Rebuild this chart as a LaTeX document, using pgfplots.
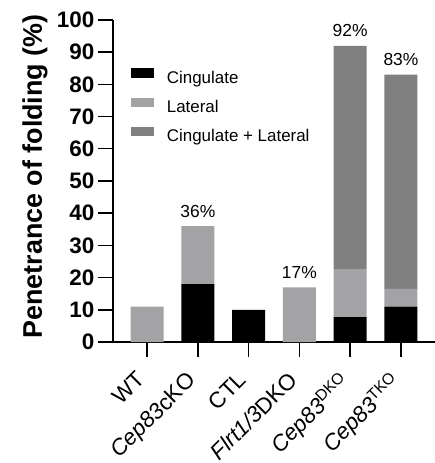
\documentclass[border=0pt]{standalone}
\usepackage{pgfplots}
\pgfplotsset{compat=1.18}
\usepackage{fontspec}
\setmainfont{Liberation Sans}
\definecolor{latgray}{RGB}{163,163,166}
\definecolor{clgray}{RGB}{128,128,128}
\pgfplotsset{myleg/.style={legend image code/.code={\fill[##1] (0bp,1.3bp) rectangle (23bp,10.8bp);}}}
\begin{document}
\begin{tikzpicture}
\begin{axis}[
 name=ax,
 scale only axis, width=322bp, height=322bp,
 ybar stacked, bar width=0.65,
 xmin=-0.67, xmax=5.67, ymin=0, ymax=100,
 axis x line*=bottom, axis y line*=left,
 axis line style={line width=1.4bp, black},
 xtick={0,1,2,3,4,5},
 xticklabels={WT, \textit{Cep83}cKO, CTL, \textit{Flrt1/3}DKO, \textit{Cep83}\textsuperscript{DKO}, \textit{Cep83}\textsuperscript{TKO}},
 ytick={0,10,...,100},
 tick align=outside, major tick length=15bp,
 tick style={line width=1.4bp, black},
 /pgf/number format/assume math mode=true,
 yticklabel style={font=\bfseries\fontsize{22.5}{22.5}\selectfont, inner sep=0pt, xshift=-3.5bp},
 xticklabel shift=13bp,
 xticklabel style={font=\fontsize{22.5}{22.5}\selectfont, xshift=-12bp, rotate=45, anchor=north east, inner sep=0pt},
 ylabel={Penetrance of folding (\%)},
 every axis y label/.style={at={(axis description cs:0,0.5)}, xshift=-71bp, yshift=4.5bp, rotate=90, anchor=base, font=\bfseries\fontsize{27}{27}\selectfont},
 legend cell align=left,
 legend style={draw=none, fill=none, at={(0.0559,0.85)}, anchor=north west, inner sep=0pt, font=\fontsize{17}{17}\selectfont, row sep=10bp, column sep=12.7bp, nodes={inner sep=0pt, text height=12.5bp, text depth=4bp}},
]
\addplot[fill=black, draw=none, myleg] coordinates {(0,0) (1,18) (2,10) (3,0) (4,7.7) (5,11)};
\addplot[fill=latgray, draw=none, myleg] coordinates {(0,11) (1,18) (2,0) (3,17) (4,14.9) (5,5.5)};
\addplot[fill=clgray, draw=none, myleg] coordinates {(0,0) (1,0) (2,0) (3,0) (4,69.4) (5,66.5)};
\legend{Cingulate, Lateral, Cingulate + Lateral}
\node[font=\fontsize{17.5}{17.5}\selectfont, anchor=base] at (axis cs:1,36) [yshift=8.5bp] {36\%};
\node[font=\fontsize{17.5}{17.5}\selectfont, anchor=base] at (axis cs:3,17) [yshift=8.5bp] {17\%};
\node[font=\fontsize{17.5}{17.5}\selectfont, anchor=base] at (axis cs:4,92) [yshift=9.5bp] {92\%};
\node[font=\fontsize{17.5}{17.5}\selectfont, anchor=base] at (axis cs:5,83) [yshift=9.5bp] {83\%};
\end{axis}
\pgfresetboundingbox
\path[use as bounding box] ([xshift=-113bp,yshift=-121bp]ax.south west) rectangle ([yshift=20bp]ax.north east);
\end{tikzpicture}
\end{document}
